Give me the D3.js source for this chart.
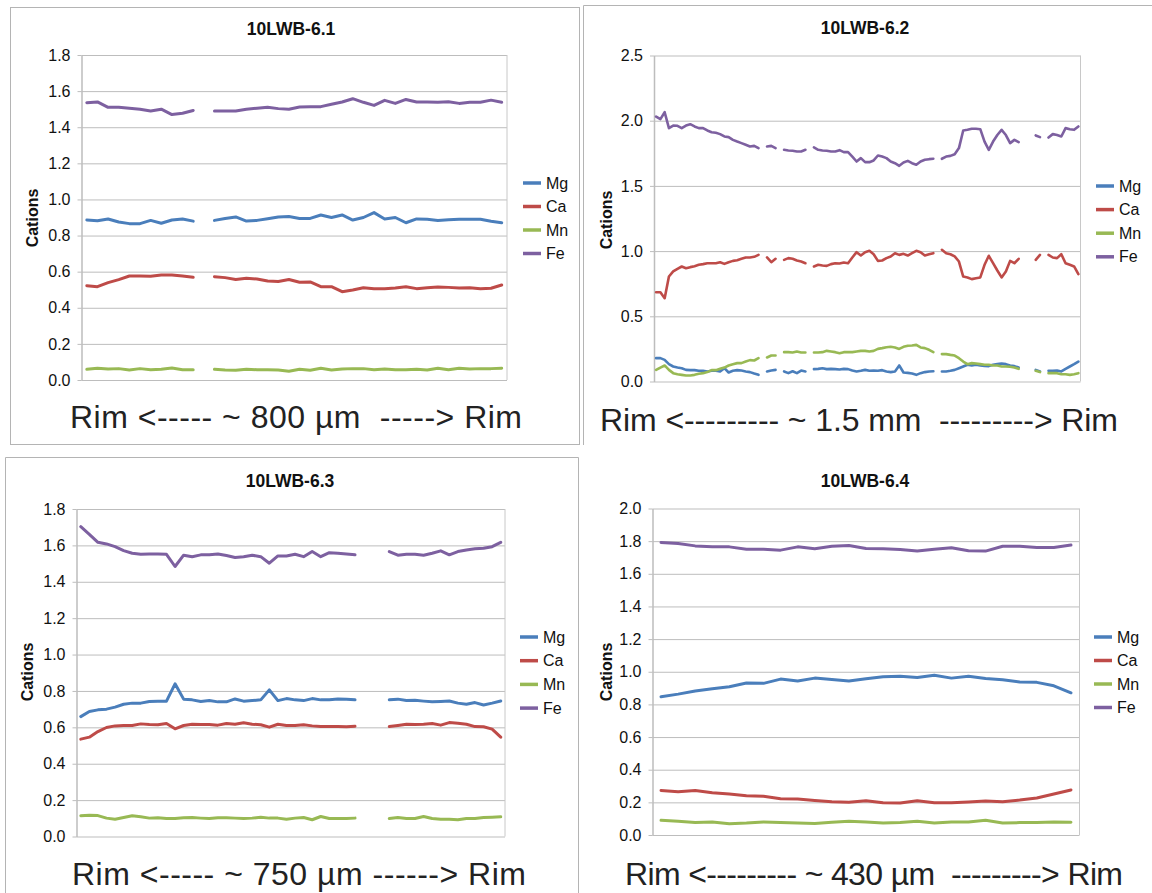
<!DOCTYPE html>
<html>
<head>
<meta charset="utf-8">
<script src="https://cdn.jsdelivr.net/npm/d3@7"></script>
<style>
  html, body { margin: 0; padding: 0; background: #fff; }
  svg text { font-family: "Liberation Sans", Arial, Helvetica, sans-serif; white-space: pre; }
</style>
</head>
<body>
<svg id="chart" width="1152" height="893"></svg>
<script>
// Element names shown in every legend
const elements = ["Mg", "Ca", "Mn", "Fe"];
const colors = { Mg: "#4a7ebb", Ca: "#be4b48", Mn: "#98b954", Fe: "#7d60a0" };

// ---- 10LWB-6.1 (40 spots, one missing) ----
const p1Mg = [0.886, 0.882, 0.892, 0.875, 0.866, 0.866, 0.884, 0.868, 0.886, 0.892, 0.880, null,
  0.884, 0.895, 0.903, 0.880, 0.884, 0.893, 0.903, 0.905, 0.895, 0.895, 0.914, 0.900, 0.914, 0.886,
  0.900, 0.927, 0.892, 0.900, 0.871, 0.892, 0.890, 0.884, 0.888, 0.890, 0.890, 0.890, 0.879, 0.871];
const p1Ca = [0.522, 0.517, 0.539, 0.556, 0.576, 0.576, 0.574, 0.581, 0.581, 0.576, 0.569, null,
  0.572, 0.567, 0.557, 0.563, 0.559, 0.548, 0.546, 0.557, 0.541, 0.543, 0.517, 0.517, 0.489, 0.498,
  0.511, 0.506, 0.506, 0.510, 0.517, 0.506, 0.511, 0.515, 0.513, 0.510, 0.511, 0.506, 0.508, 0.526];
const p1Mn = [0.059, 0.065, 0.061, 0.063, 0.055, 0.063, 0.057, 0.059, 0.066, 0.057, 0.057, null,
  0.059, 0.055, 0.054, 0.059, 0.057, 0.057, 0.055, 0.048, 0.059, 0.054, 0.065, 0.055, 0.061, 0.063,
  0.063, 0.057, 0.061, 0.057, 0.057, 0.059, 0.055, 0.065, 0.057, 0.065, 0.061, 0.063, 0.063, 0.065];
const p1Fe = [1.536, 1.540, 1.510, 1.510, 1.505, 1.500, 1.490, 1.500, 1.470, 1.477, 1.493, null,
  1.490, 1.490, 1.490, 1.500, 1.505, 1.510, 1.503, 1.500, 1.512, 1.514, 1.514, 1.527, 1.540, 1.558,
  1.538, 1.521, 1.549, 1.532, 1.554, 1.540, 1.540, 1.538, 1.541, 1.532, 1.538, 1.538, 1.550, 1.538];
const p1Ticks = [0, 0.2, 0.4, 0.6, 0.8, 1.0, 1.2, 1.4, 1.6, 1.8];

// ---- 10LWB-6.2 (100 spots, several missing) ----
const p2Mg = [0.179, 0.179, 0.166, 0.133, 0.115, 0.107, 0.102, 0.089, 0.087, 0.087,
  0.082, 0.082, 0.077, 0.082, 0.082, 0.077, 0.102, 0.069, 0.082, 0.087,
  0.084, 0.077, 0.072, 0.061, 0.051, null, 0.077, 0.084, 0.089, null,
  0.077, 0.064, 0.079, 0.064, 0.084, 0.077, null, 0.095, 0.097, 0.102,
  0.095, 0.097, 0.095, 0.092, 0.097, 0.095, 0.084, 0.077, 0.082, 0.089,
  0.082, 0.084, 0.082, 0.087, 0.077, 0.072, 0.077, 0.123, 0.069, 0.066,
  0.061, 0.051, 0.064, 0.072, 0.077, 0.079, null, 0.077, 0.077, 0.082,
  0.089, 0.102, 0.115, 0.128, 0.123, 0.128, 0.123, 0.120, 0.118, 0.128,
  0.133, 0.138, 0.133, 0.123, 0.118, 0.107, null, null, null, 0.089,
  0.077, null, 0.082, 0.082, 0.084, 0.077, 0.097, 0.115, 0.133, 0.153];
const p2Ca = [0.685, 0.685, 0.639, 0.805, 0.844, 0.864, 0.882, 0.869, 0.877, 0.884,
  0.895, 0.900, 0.907, 0.907, 0.907, 0.915, 0.902, 0.915, 0.925, 0.930,
  0.941, 0.951, 0.951, 0.956, 0.971, null, 0.951, 0.915, 0.941, null,
  0.933, 0.946, 0.941, 0.928, 0.920, 0.907, null, 0.882, 0.895, 0.890,
  0.887, 0.900, 0.907, 0.905, 0.913, 0.907, 0.951, 0.992, 0.966, 0.992,
  1.002, 0.976, 0.925, 0.928, 0.946, 0.959, 0.984, 0.971, 0.979, 0.966,
  0.984, 1.002, 0.992, 0.966, 0.976, 0.984, null, 1.010, 0.984, 0.976,
  0.959, 0.920, 0.805, 0.798, 0.785, 0.792, 0.798, 0.895, 0.964, 0.907,
  0.851, 0.798, 0.844, 0.925, 0.907, 0.941, null, null, null, 0.933,
  0.971, null, 0.971, 0.951, 0.946, 0.976, 0.907, 0.895, 0.882, 0.823];
const p2Mn = [0.089, 0.107, 0.123, 0.089, 0.064, 0.056, 0.051, 0.046, 0.046, 0.051,
  0.059, 0.064, 0.072, 0.087, 0.087, 0.097, 0.107, 0.123, 0.133, 0.141,
  0.141, 0.153, 0.164, 0.161, 0.179, null, 0.184, 0.199, 0.199, null,
  0.225, 0.225, 0.222, 0.230, 0.222, 0.222, null, 0.222, 0.222, 0.225,
  0.235, 0.230, 0.225, 0.217, 0.225, 0.225, 0.225, 0.230, 0.235, 0.235,
  0.230, 0.235, 0.250, 0.256, 0.263, 0.266, 0.261, 0.250, 0.266, 0.274,
  0.276, 0.281, 0.261, 0.256, 0.243, 0.225, null, 0.210, 0.210, 0.204,
  0.199, 0.179, 0.153, 0.133, 0.141, 0.138, 0.133, 0.128, 0.128, 0.123,
  0.123, 0.115, 0.115, 0.113, 0.107, 0.097, null, null, null, 0.082,
  0.072, null, 0.064, 0.064, 0.064, 0.056, 0.056, 0.051, 0.056, 0.064];
const p2Fe = [2.032, 2.012, 2.065, 1.943, 1.963, 1.961, 1.943, 1.963, 1.973, 1.956,
  1.943, 1.943, 1.925, 1.912, 1.907, 1.897, 1.879, 1.874, 1.853, 1.840,
  1.828, 1.815, 1.802, 1.807, 1.790, null, 1.802, 1.807, 1.790, null,
  1.777, 1.772, 1.770, 1.764, 1.764, 1.777, null, 1.795, 1.777, 1.772,
  1.770, 1.764, 1.764, 1.774, 1.759, 1.759, 1.725, 1.687, 1.713, 1.682,
  1.682, 1.695, 1.733, 1.725, 1.713, 1.687, 1.674, 1.654, 1.679, 1.692,
  1.674, 1.662, 1.687, 1.700, 1.705, 1.708, null, 1.708, 1.725, 1.730,
  1.743, 1.790, 1.925, 1.930, 1.938, 1.938, 1.935, 1.840, 1.777, 1.840,
  1.890, 1.930, 1.890, 1.828, 1.853, 1.835, null, null, null, 1.887,
  1.874, null, 1.871, 1.897, 1.890, 1.879, 1.943, 1.935, 1.930, 1.956];
const p2Ticks = [0, 0.5, 1.0, 1.5, 2.0, 2.5];

// ---- 10LWB-6.3 (50 spots, three missing) ----
const p3Mg = [0.659, 0.687, 0.696, 0.700, 0.711, 0.727, 0.733, 0.733, 0.742, 0.744,
  0.744, 0.839, 0.755, 0.751, 0.742, 0.747, 0.740, 0.740, 0.756, 0.744,
  0.747, 0.751, 0.806, 0.747, 0.758, 0.751, 0.747, 0.758, 0.751, 0.751,
  0.756, 0.755, 0.751, null, null, null, 0.751, 0.755, 0.747, 0.749,
  0.744, 0.740, 0.742, 0.745, 0.733, 0.727, 0.736, 0.723, 0.733, 0.745];
const p3Ca = [0.535, 0.546, 0.577, 0.599, 0.608, 0.610, 0.610, 0.619, 0.615, 0.614,
  0.621, 0.592, 0.610, 0.617, 0.615, 0.615, 0.612, 0.621, 0.617, 0.625,
  0.617, 0.614, 0.601, 0.617, 0.610, 0.610, 0.614, 0.608, 0.604, 0.604,
  0.604, 0.603, 0.606, null, null, null, 0.604, 0.610, 0.617, 0.615,
  0.617, 0.621, 0.612, 0.626, 0.623, 0.617, 0.604, 0.603, 0.590, 0.546];
const p3Mn = [0.114, 0.117, 0.115, 0.101, 0.095, 0.104, 0.114, 0.108, 0.101, 0.103,
  0.099, 0.099, 0.103, 0.104, 0.101, 0.099, 0.103, 0.103, 0.101, 0.099,
  0.101, 0.106, 0.101, 0.101, 0.095, 0.101, 0.104, 0.092, 0.110, 0.099,
  0.099, 0.099, 0.101, null, null, null, 0.099, 0.104, 0.099, 0.099,
  0.110, 0.099, 0.095, 0.095, 0.092, 0.099, 0.099, 0.104, 0.106, 0.108];
const p3Fe = [1.703, 1.661, 1.617, 1.608, 1.593, 1.571, 1.557, 1.551, 1.553, 1.553,
  1.551, 1.484, 1.546, 1.538, 1.548, 1.548, 1.553, 1.544, 1.533, 1.538,
  1.546, 1.538, 1.502, 1.542, 1.542, 1.551, 1.538, 1.566, 1.538, 1.560,
  1.557, 1.553, 1.548, null, null, null, 1.566, 1.546, 1.551, 1.551,
  1.546, 1.557, 1.570, 1.548, 1.566, 1.575, 1.581, 1.584, 1.593, 1.617];
const p3Ticks = [0, 0.2, 0.4, 0.6, 0.8, 1.0, 1.2, 1.4, 1.6, 1.8];

// ---- 10LWB-6.4 (25 spots) ----
const p4Mg = [0.847, 0.863, 0.882, 0.896, 0.908, 0.931, 0.929, 0.955, 0.943, 0.961, 0.953, 0.943,
  0.957, 0.969, 0.973, 0.965, 0.978, 0.961, 0.973, 0.959, 0.951, 0.937, 0.935, 0.914, 0.871];
const p4Ca = [0.273, 0.265, 0.273, 0.259, 0.251, 0.241, 0.237, 0.222, 0.220, 0.212, 0.204, 0.200,
  0.210, 0.198, 0.196, 0.210, 0.198, 0.198, 0.202, 0.208, 0.204, 0.214, 0.227, 0.251, 0.276];
const p4Mn = [0.090, 0.084, 0.076, 0.080, 0.069, 0.073, 0.080, 0.076, 0.073, 0.071, 0.078, 0.084,
  0.080, 0.073, 0.076, 0.084, 0.073, 0.080, 0.080, 0.090, 0.073, 0.076, 0.076, 0.080, 0.078];
const p4Fe = [1.792, 1.786, 1.771, 1.765, 1.765, 1.751, 1.751, 1.745, 1.765, 1.753, 1.769, 1.773,
  1.755, 1.753, 1.749, 1.739, 1.751, 1.759, 1.741, 1.739, 1.769, 1.769, 1.761, 1.761, 1.776];
const p4Ticks = [0, 0.2, 0.4, 0.6, 0.8, 1.0, 1.2, 1.4, 1.6, 1.8, 2.0];

// Panel titles and traverse captions
const titles = ["10LWB-6.1", "10LWB-6.2", "10LWB-6.3", "10LWB-6.4"];
const captions = [
  "Rim <----- ~ 800 µm  -----> Rim",
  "Rim <--------- ~ 1.5 mm  ---------> Rim",
  "Rim <----- ~ 750 µm ------> Rim",
  "Rim <--------- ~ 430 µm  ---------> Rim"
];

const svg = d3.select("#chart");

// Panel frames
const frame = svg.append("g").attr("fill", "none").attr("stroke", "#b4b4b4").attr("stroke-width", 1);
frame.append("rect").attr("x", 10.5).attr("y", 7.5).attr("width", 569).attr("height", 437);
frame.append("path").attr("d", "M583.5,445V5.5H1152");
frame.append("path").attr("d", "M5.5,893V457.5H578.5V893");

const panels = [
  { series: { Mg: p1Mg, Ca: p1Ca, Mn: p1Mn, Fe: p1Fe }, ticks: p1Ticks, yMax: 1.8,
    box: { l: 81.5, r: 507, t: 55, b: 380 }, title: titles[0], titleX: 291, titleY: 35,
    cations: { x: 38, y: 218 }, legend: { x: 523, y: 183, dy: 23.5 },
    caption: captions[0], capX: 296, capY: 428, capW: 452, lw: 3 },
  { series: { Mg: p2Mg, Ca: p2Ca, Mn: p2Mn, Fe: p2Fe }, ticks: p2Ticks, yMax: 2.5,
    box: { l: 654, r: 1080.5, t: 55.5, b: 381.5 }, title: titles[1], titleX: 865, titleY: 34,
    cations: { x: 612, y: 220 }, legend: { x: 1096, y: 186, dy: 23.6 },
    caption: captions[1], capX: 859, capY: 431, capW: 518, lw: 2.6 },
  { series: { Mg: p3Mg, Ca: p3Ca, Mn: p3Mn, Fe: p3Fe }, ticks: p3Ticks, yMax: 1.8,
    box: { l: 76.5, r: 505, t: 509, b: 836.5 }, title: titles[2], titleX: 290, titleY: 487,
    cations: { x: 33, y: 672 }, legend: { x: 520, y: 637, dy: 23.7 },
    caption: captions[2], capX: 299, capY: 885, capW: 454, lw: 3 },
  { series: { Mg: p4Mg, Ca: p4Ca, Mn: p4Mn, Fe: p4Fe }, ticks: p4Ticks, yMax: 2.0,
    box: { l: 652.5, r: 1079.5, t: 508.5, b: 835 }, title: titles[3], titleX: 865, titleY: 487,
    cations: { x: 612, y: 672 }, legend: { x: 1094, y: 637, dy: 23.5 },
    caption: captions[3], capX: 874, capY: 885, capW: 498, lw: 3 }
];

panels.forEach(p => {
  const n = p.series.Mg.length;
  const g = svg.append("g");
  const x = d3.scalePoint().domain(d3.range(n)).range([p.box.l, p.box.r]).padding(0.5);
  const y = d3.scaleLinear().domain([0, p.yMax]).range([p.box.b, p.box.t]);
  const w = p.box.r - p.box.l;

  // Horizontal gridlines
  const grid = g.append("g").attr("transform", `translate(${p.box.l},0)`)
    .call(d3.axisLeft(y).tickValues(p.ticks).tickSize(-w).tickFormat(""));
  grid.select(".domain").remove();
  grid.selectAll("line").attr("stroke", "#bdbdbd").attr("stroke-width", 1);

  // Value axis with short ticks and labels
  const ax = g.append("g").attr("transform", `translate(${p.box.l},0)`)
    .call(d3.axisLeft(y).tickValues(p.ticks).tickSize(4).tickSizeOuter(0)
      .tickPadding(7).tickFormat(d3.format(".1f")));
  ax.select(".domain").attr("stroke", "#bdbdbd").attr("stroke-width", 1.5);
  ax.selectAll("line").attr("stroke", "#bdbdbd");
  ax.selectAll("text").attr("font-size", 16).attr("fill", "#111")
    .style("font-family", '"Liberation Sans", Arial, sans-serif');

  // Right border of the plot area
  g.append("line").attr("x1", p.box.r).attr("x2", p.box.r)
    .attr("y1", y(p.yMax)).attr("y2", y(0)).attr("stroke", "#c8c8c8");

  // Element traces
  const line = d3.line().defined(d => d != null).x((d, i) => x(i)).y(d => y(d));
  elements.forEach(el => {
    g.append("path").datum(p.series[el])
      .attr("fill", "none").attr("stroke", colors[el]).attr("stroke-width", p.lw)
      .attr("stroke-linejoin", "round").attr("stroke-linecap", "round")
      .attr("d", line);
  });

  // Title
  g.append("text").attr("x", p.titleX).attr("y", p.titleY).attr("text-anchor", "middle")
    .attr("font-size", 17.5).attr("font-weight", "bold").attr("fill", "#111").text(p.title);

  // Vertical axis name
  g.append("text").attr("transform", `translate(${p.cations.x},${p.cations.y}) rotate(-90)`)
    .attr("text-anchor", "middle").attr("font-size", 16).attr("font-weight", "bold")
    .attr("fill", "#111").text("Cations");

  // Legend
  elements.forEach((el, i) => {
    const ly = p.legend.y + i * p.legend.dy;
    g.append("line").attr("x1", p.legend.x).attr("x2", p.legend.x + 18)
      .attr("y1", ly).attr("y2", ly).attr("stroke", colors[el]).attr("stroke-width", 3.5);
    g.append("text").attr("x", p.legend.x + 23).attr("y", ly + 5.5)
      .attr("font-size", 16).attr("fill", "#111").text(el);
  });

  // Traverse caption, spread to the width of its panel
  g.append("text").attr("x", p.capX).attr("y", p.capY).attr("text-anchor", "middle")
    .attr("font-size", 32).attr("fill", "#222")
    .attr("textLength", p.capW).attr("lengthAdjust", "spacing").text(p.caption);
});
</script>
</body>
</html>
